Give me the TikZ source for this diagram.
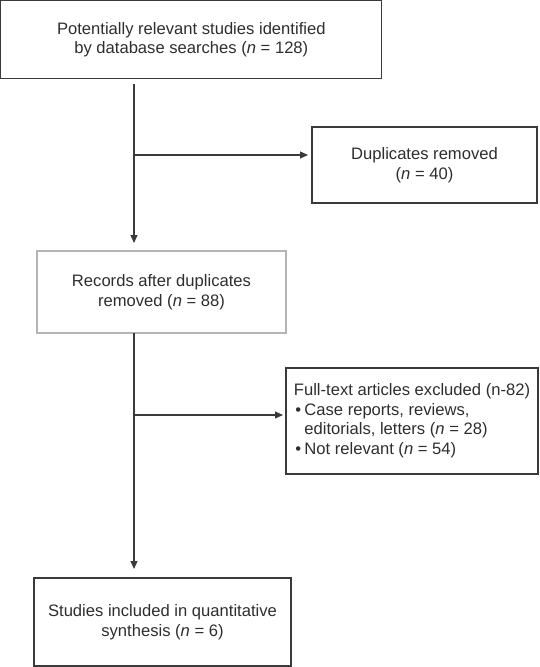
\documentclass[tikz,border=0pt]{standalone}
\usepackage{fontspec}
\setmainfont{Liberation Sans}
\usetikzlibrary{arrows.meta}
\definecolor{lc}{HTML}{3A3A3A}
\definecolor{tc}{HTML}{2E2E2E}
\definecolor{lg}{HTML}{B4B4B4}
\tikzset{
  box/.style={draw=lc, line width=1.2pt, inner sep=0pt, text=tc,
    font=\fontsize{16.6pt}{19.5pt}\selectfont, align=center},
  lbox/.style={box, draw=lg},
  conn/.style={draw=lc, line width=1.1pt},
  arr/.style={conn, -{Triangle[length=8pt,width=7pt]}}
}
\begin{document}
\begin{tikzpicture}[x=1pt,y=-1pt]
\useasboundingbox (0,0) rectangle (539,667);
\node[box, minimum width=381pt, minimum height=78pt] (b1) at (191.3,39.8)
  {Potentially relevant studies identified\\by database searches (\textit{n} = 128)};
\node[box, minimum width=225pt, minimum height=76pt] (b2) at (424.5,165)
  {Duplicates removed\\(\textit{n} = 40)};
\node[lbox, minimum width=249pt, minimum height=82pt] (b3) at (161.5,292)
  {Records after duplicates\\removed (\textit{n} = 88)};
\node[box, minimum width=252pt, minimum height=106pt, align=left] (b4) at (412,421)
  {\begin{tabular}{@{}l@{}l@{}}\multicolumn{2}{@{}l@{}}{Full-text articles excluded (n-82)}\\
   \makebox[10.5pt][l]{\hspace{1.5pt}•}&Case reports, reviews,\\
   &editorials, letters (\textit{n} = 28)\\
   \makebox[10.5pt][l]{\hspace{1.5pt}•}&Not relevant (\textit{n} = 54)\end{tabular}};
\node[box, minimum width=257pt, minimum height=88pt] (b5) at (162.5,622)
  {Studies included in quantitative\\synthesis (\textit{n} = 6)};
\coordinate (s1) at (134,84);
\coordinate (j1) at (134,155);
\coordinate (t1) at (134,243);
\coordinate (e1) at (308,155);
\coordinate (s2) at (134,333);
\coordinate (j2) at (134,415);
\coordinate (t2) at (134,569);
\coordinate (e2) at (283,415);
\draw[arr] (s1) -- (t1);
\draw[arr] (j1) -- (e1);
\draw[arr] (s2) -- (t2);
\draw[arr] (j2) -- (e2);
\end{tikzpicture}
\end{document}
